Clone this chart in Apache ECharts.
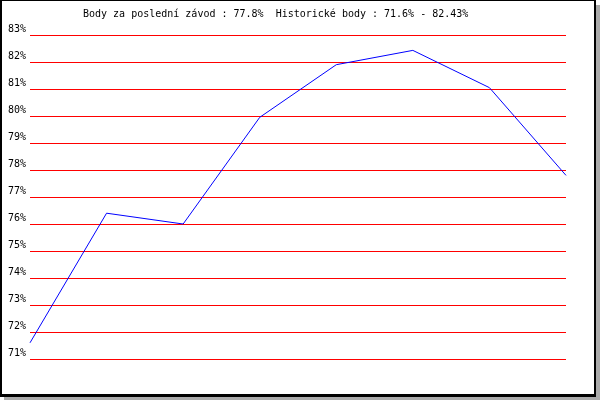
<!DOCTYPE html>
<html>
<head>
<meta charset="utf-8">
<script src="https://cdn.jsdelivr.net/npm/echarts@6/dist/echarts.min.js"></script>
<style>
html,body{margin:0;padding:0;background:#fff;}
#wrap{position:relative;width:600px;height:400px;background:#fff;}
#shadow{position:absolute;left:4px;top:5px;width:596px;height:395px;background:#aaaaaa;}
#frame{position:absolute;left:0;top:0;width:592px;height:393px;border-left:2px solid #000;border-top:1px solid #000;border-right:2px solid #000;border-bottom:3px solid #000;background:#fff;}
#chart{position:absolute;left:0;top:0;width:600px;height:400px;}
</style>
</head>
<body>
<div id="wrap"><div id="shadow"></div><div id="frame"></div><div id="chart"></div></div>
<script>
const titleText = 'Body za poslední závod : 77.8%  Historické body : 71.6% - 82.43%';
const races = ['1', '2', '3', '4', '5', '6', '7', '8'];
const points = [71.6, 76.4, 76.0, 79.95, 81.9, 82.43, 81.05, 77.8];
const yMin = 71, yMax = 83, yStep = 1;

const chart = echarts.init(document.getElementById('chart'), null, {renderer: 'canvas'});
chart.setOption({
  backgroundColor: 'transparent',
  animation: false,
  title: {
    text: titleText,
    left: 83, top: 9,
    padding: 0,
    textStyle: {fontFamily: 'DejaVu Sans Mono', fontSize: 10, fontWeight: 'normal', color: '#000'}
  },
  grid: {left: 30, right: 34, top: 35, bottom: 41, containLabel: false},
  xAxis: {
    type: 'category', data: races, boundaryGap: false,
    axisLine: {show: false}, axisTick: {show: false}, axisLabel: {show: false}, splitLine: {show: false}
  },
  yAxis: {
    type: 'value', min: yMin, max: yMax, interval: yStep,
    axisLine: {show: false}, axisTick: {show: false},
    axisLabel: {
      formatter: v => v + '%', margin: 4, verticalAlign: 'bottom', padding: [0, 0, 1, 0],
      fontFamily: 'DejaVu Sans Mono', fontSize: 10, color: '#000'
    },
    splitLine: {show: true, lineStyle: {color: '#ff0000', width: 1}}
  },
  series: [{
    type: 'line', data: points, symbol: 'none',
    lineStyle: {color: '#0000ff', width: 1}
  }]
});
</script>
</body>
</html>
